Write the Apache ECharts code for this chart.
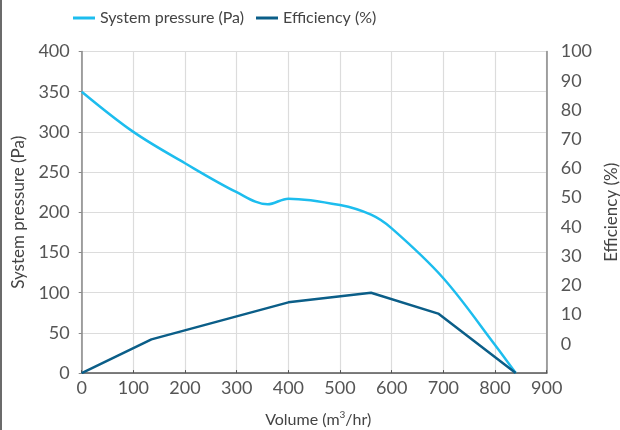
<!DOCTYPE html>
<html><head><meta charset="utf-8">
<script src="https://cdn.jsdelivr.net/npm/echarts@6/dist/echarts.min.js"></script>
<style>html,body{margin:0;padding:0;background:#fff}#c{width:620px;height:430px}</style>
</head><body><div id="c"></div>
<script>
const volumeTicks = [0,100,200,300,400,500,600,700,800,900];
const pressureVolume = [0,100,200,300,360,400,500,560,600,700,800,840];
const pressureValues = [350,300,261,225,210,217,209,197,180,118,35,0];
const efficiencyVolume = [0,135,400,560,690,840];
const efficiencyValues = [0,42,88,100,74,0];
const leftTicks = [0,50,100,150,200,250,300,350,400];
const rightTicks = [0,10,20,30,40,50,60,70,80,90,100];

const font = 'Lato';
const chart = echarts.init(document.getElementById('c'), null, {renderer:'canvas'});
chart.setOption({
  animation:false,
  backgroundColor:'#fff',
  textStyle:{fontFamily:font},
  graphic:[{type:'rect',left:0,top:0,shape:{width:2,height:430},style:{fill:'#6b6b6b'}}],
  legend:{
    top:5,left:68,itemWidth:22,itemHeight:3,itemGap:12,
    icon:'rect',
    textStyle:{fontSize:16,color:'#444',fontFamily:font},
    data:['System pressure (Pa)','Efficiency (%)']
  },
  grid:{left:81.7,right:73.3,top:51.5,bottom:56.9,containLabel:false,outerBoundsMode:'none'},
  xAxis:{
    type:'value',min:0,max:900,interval:100,
    name:'Volume (m{sup|3}/hr)',nameLocation:'middle',nameGap:37,
    nameTextStyle:{fontSize:16,color:'#444',fontFamily:font,padding:[0,0,0,8],rich:{sup:{fontSize:10,verticalAlign:'top',padding:[0,0,9,0],color:'#444'}}},
    axisLine:{show:true,lineStyle:{color:'#555',width:1.5}},
    axisTick:{show:true,inside:true,length:3,lineStyle:{color:'#555'}},
    axisLabel:{fontSize:18,color:'#555',margin:6,fontFamily:font,
      formatter:v=>volumeTicks.includes(v)?String(v):''},
    splitLine:{show:true,lineStyle:{color:'#dcdcdc',width:1.2}}
  },
  yAxis:[{
    type:'value',min:0,max:400,interval:50,
    name:'System pressure (Pa)',nameLocation:'middle',nameGap:53,nameRotate:90,
    nameTextStyle:{fontSize:17,color:'#444',fontFamily:font},
    axisLine:{show:true,lineStyle:{color:'#888',width:1.5}},
    axisTick:{show:true,length:3,lineStyle:{color:'#888'}},
    axisLabel:{fontSize:18,color:'#555',margin:12,fontFamily:font,
      formatter:v=>leftTicks.includes(v)?String(v):''},
    splitLine:{show:true,lineStyle:{color:'#dcdcdc',width:1.2}}
  },{
    type:'value',min:-10,max:100,interval:10,position:'right',
    name:'Efficiency (%)',nameLocation:'middle',nameGap:51,nameRotate:90,
    nameTextStyle:{fontSize:17,color:'#444',fontFamily:font},
    axisLine:{show:true,lineStyle:{color:'#888',width:1.5}},
    axisTick:{show:false},
    axisLabel:{fontSize:18,color:'#555',margin:14,fontFamily:font,
      formatter:v=>rightTicks.includes(v)?String(v):''},
    splitLine:{show:false}
  }],
  series:[{
    name:'System pressure (Pa)',type:'line',yAxisIndex:0,smooth:0.35,
    showSymbol:false,symbol:'none',
    itemStyle:{color:'#1dbdee'},lineStyle:{color:'#1dbdee',width:2.5},
    data:pressureVolume.map((x,i)=>[x,pressureValues[i]])
  },{
    name:'Efficiency (%)',type:'line',yAxisIndex:0,smooth:false,
    showSymbol:false,symbol:'none',
    itemStyle:{color:'#0b5e88'},lineStyle:{color:'#0b5e88',width:2.5},
    data:efficiencyVolume.map((x,i)=>[x,efficiencyValues[i]])
  }]
});
</script></body></html>
